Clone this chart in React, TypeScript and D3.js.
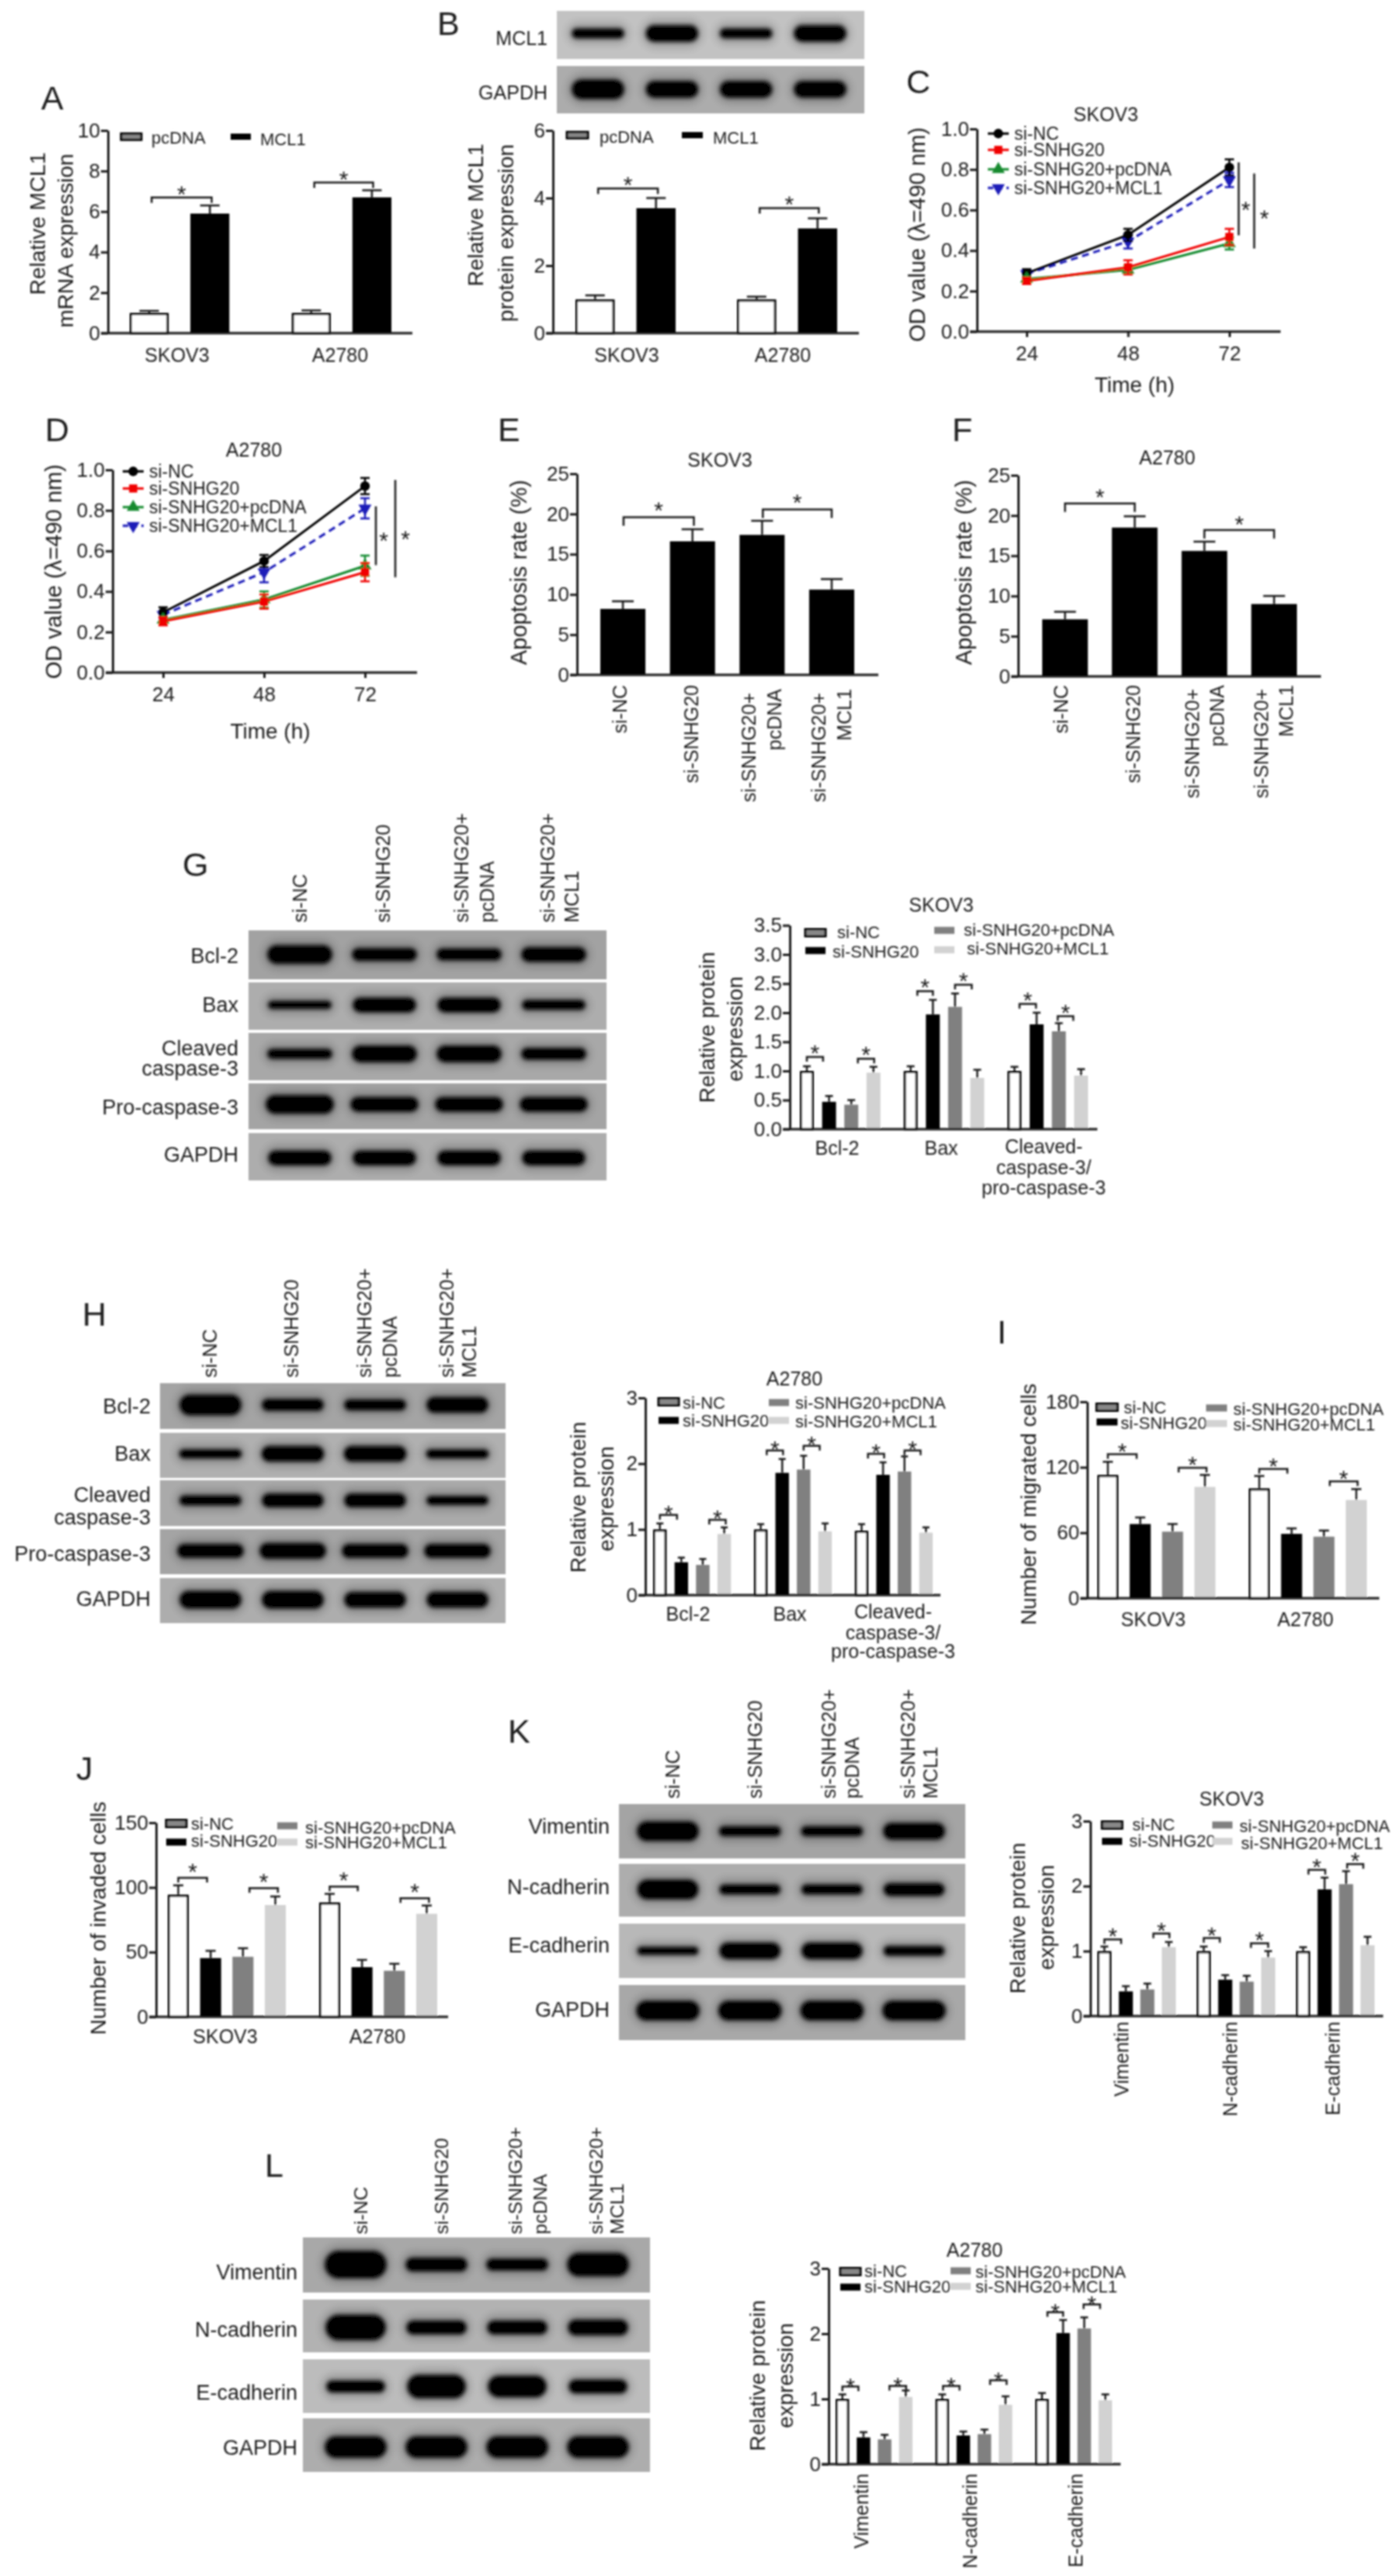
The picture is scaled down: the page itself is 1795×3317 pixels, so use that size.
/**
 * SNHG20 / MCL1 multi panel figure
 */
import React, { useEffect, useRef } from 'react'
import * as d3 from 'd3'

const FONT = '"Liberation Sans", Arial, sans-serif'
const INK = '#1c1c1c'

const groups2 = ['SKOV3', 'A2780']
const seriesNames = ['si-NC', 'si-SNHG20', 'si-SNHG20+pcDNA', 'si-SNHG20+MCL1']
const barColors = ['#fff', '#000', '#808080', '#d2d2d2']
const hours = [24, 48, 72]

// A
const aMeans = [[1, 1], [5.9, 6.7]]
const aTops = [[1.1, 1.12], [6.3, 7.05]]
const aBrackets = [[0, 0.04, 1.03, 6.7], [1, 0.05, 1.02, 7.43]]
// B
const bMeans = [[1, 1], [3.7, 3.1]]
const bTops = [[1.12, 1.08], [4.0, 3.4]]
const bBrackets = [[0, 0.05, 1.03, 4.28], [1, 0.05, 1.02, 3.7]]
const bBandMcl1 = [10, 17, 10, 17]
const bBandGapdh = [20, 17, 17, 17]
// C
const cMeans = [[0.288, 0.477, 0.81], [0.25, 0.317, 0.467], [0.26, 0.305, 0.435], [0.285, 0.445, 0.748]]
const cErrs = [[0.02, 0.03, 0.04], [0.015, 0.035, 0.04], [0.01, 0.02, 0.03], [0.015, 0.035, 0.035]]
const cSig = [[12, 0.835, 0.475, 9, 0.628], [32, 0.78, 0.41, 13, 0.586]]
// D
const dMeans = [[0.297, 0.55, 0.92], [0.253, 0.35, 0.495], [0.26, 0.36, 0.527], [0.285, 0.495, 0.81]]
const dErrs = [[0.025, 0.03, 0.04], [0.02, 0.035, 0.045], [0.015, 0.04, 0.05], [0.015, 0.05, 0.05]]
const dSig = [[14, 0.82, 0.53, 10, 0.678], [39, 0.95, 0.47, 13, 0.686]]
// E
const eMeans = [[8.2], [16.6], [17.4], [10.6]]
const eTops = [[9.15], [18.1], [19.15], [11.9]]
const eBrackets = [[0, 0.01, 1.02, 19.6], [0, 2.01, 3.0, 20.56]]
// F
const fMeans = [[7.1], [18.5], [15.6], [9.0]]
const fTops = [[8.03], [19.9], [16.75], [10.0]]
const fBrackets = [[0, 0, 1, 21.5], [0, 2, 3, 18.2]]
// G
const gGroups = ['Bcl-2', 'Bax', 'Cleaved']
const gMeans = [[1, 1, 1], [0.47, 1.97, 1.8], [0.42, 2.1, 1.68], [0.97, 0.88, 0.92]]
const gTops = [[1.08, 1.08, 1.07], [0.57, 2.22, 2.0], [0.5, 2.33, 1.82], [1.07, 1.02, 1.03]]
const gBrackets = [[0, 0, 0.73, 1.24], [0, 2.3, 3.03, 1.21], [1, 0.3, 1, 2.37], [1, 2, 2.75, 2.48], [2, 0.23, 0.97, 2.15], [2, 1.95, 2.65, 1.94]]
const gBands = [[19, 13, 12, 15], [8, 15, 15, 10], [10, 17, 17, 12], [19, 15, 15, 15], [15, 15, 15, 15]]
// H
const hMeans = [[1, 1, 0.98], [0.5, 1.86, 1.83], [0.46, 1.91, 1.88], [0.93, 0.97, 0.95]]
const hTops = [[1.09, 1.08, 1.08], [0.57, 2.07, 2.02], [0.55, 2.12, 2.11], [1.03, 1.09, 1.03]]
const hBrackets = [[0, 0, 0.8, 1.22], [0, 2.3, 3.07, 1.145], [1, 0.28, 1.04, 2.2], [1, 2, 2.75, 2.27], [2, 0.3, 1.05, 2.15], [2, 2, 2.75, 2.2]]
const hBands = [[21, 12, 11, 16], [9, 16, 16, 9], [10, 14, 14, 9], [14, 16, 14, 14], [18, 18, 16, 16]]
// I
const iMeans = [[113, 100.7], [68, 59], [61, 56.4], [102, 90]]
const iTops = [[125, 112], [74, 64], [68, 62], [113, 100]]
const iBrackets = [[0, 0, 0.89, 131.9], [0, 2.19, 3.05, 119.6], [1, 0, 0.87, 118.4], [1, 2.18, 3.04, 107]]
// J
const jMeans = [[94.4, 88.4], [45.4, 38.4], [46.4, 35.6], [86.4, 79.6]]
const jTops = [[101.6, 95], [51, 44], [53, 41], [93, 86]]
const jBrackets = [[0, 0, 0.89, 107.4], [0, 2.2, 3.08, 99.4], [1, 0, 0.87, 100.6], [1, 2.19, 3.07, 91.6]]
// K
const emtGroups = ['Vimentin', 'N-cadherin', 'E-cadherin']
const kMeans = [[1, 1, 1], [0.38, 0.56, 1.95], [0.41, 0.53, 2.03], [1.06, 0.9, 1.09]]
const kTops = [[1.07, 1.07, 1.06], [0.46, 0.63, 2.13], [0.5, 0.62, 2.23], [1.14, 1.0, 1.22]]
const kBrackets = [[0, 0, 0.78, 1.18], [0, 2.28, 3.03, 1.27], [1, 0, 0.75, 1.2], [1, 2.2, 3, 1.12], [2, 0.25, 1.03, 2.25], [2, 2.05, 2.8, 2.34]]
const kBands = [[20, 10, 10, 17], [20, 10, 10, 13], [8, 17, 17, 10], [20, 20, 20, 20]]
// L
const lMeans = [[1, 1, 1], [0.41, 0.44, 2.01], [0.38, 0.46, 2.08], [1.03, 0.91, 0.98]]
const lTops = [[1.07, 1.07, 1.09], [0.49, 0.5, 2.21], [0.45, 0.53, 2.25], [1.13, 1.04, 1.07]]
const lBrackets = [[0, 0, 0.76, 1.19], [0, 2.23, 3.02, 1.2], [1, 0.04, 0.82, 1.2], [1, 2.27, 3.05, 1.285], [2, 0.26, 1, 2.33], [2, 1.97, 2.75, 2.45]]
const lBands = [[28, 14, 12, 24], [26, 14, 14, 16], [12, 24, 22, 14], [22, 22, 22, 22]]

type Sel = d3.Selection<any, any, any, any>

function txt(g: Sel, s: string, x: number, y: number, size: number, anchor = 'middle', rot = false) {
  const t = g
    .append('text')
    .text(s)
    .attr('font-family', FONT)
    .attr('font-size', size)
    .attr('fill', INK)
    .attr('text-anchor', anchor)
    .attr('dominant-baseline', 'central')
  if (rot) t.attr('transform', `translate(${x},${y}) rotate(-90)`)
  else t.attr('x', x).attr('y', y)
  return t
}

function letter(g: Sel, s: string, x: number, baseline: number) {
  g.append('text').text(s).attr('x', x).attr('y', baseline).attr('font-family', FONT).attr('font-size', 43).attr('fill', INK)
}

function star(g: Sel, x: number, yc: number, size = 30) {
  g.append('text')
    .text('*')
    .attr('x', x)
    .attr('y', yc + size * 0.57)
    .attr('text-anchor', 'middle')
    .attr('font-family', FONT)
    .attr('font-size', size)
    .attr('fill', INK)
}

function hline(g: Sel, x1: number, x2: number, y1: number, y2: number, w = 3, color = INK) {
  g.append('line').attr('x1', x1).attr('x2', x2).attr('y1', y1).attr('y2', y2).attr('stroke', color).attr('stroke-width', w)
}

function yAxis(g: Sel, y: d3.ScaleLinear<number, number>, x: number, ticks: number[], fmt: (d: any) => string = d3.format('d'), size = 26) {
  const axis = d3.axisLeft(y).tickValues(ticks).tickSize(9).tickSizeOuter(0).tickPadding(1).tickFormat(fmt)
  const a = g.append('g').attr('transform', `translate(${x},0)`).call(axis as any)
  a.select('.domain').attr('stroke', INK).attr('stroke-width', 3)
  a.selectAll('.tick line').attr('stroke', INK).attr('stroke-width', 3)
  a.selectAll('.tick text').attr('font-size', size).attr('font-family', FONT).attr('fill', INK)
}

interface BarCfg {
  axisX: number
  xEnd: number
  yTop: number
  y0: number
  yMax: number
  ticks: number[]
  fmt?: (d: any) => string
  range: [number, number]
  groups: string[]
  groupPad: number
  barPad: number
  means: number[][]
  tops: number[][]
  colors: string[]
  capW: number
  brackets: number[][]
  starGap: number
  legLen: number
}

function barChart(g: Sel, c: BarCfg) {
  const y = d3.scaleLinear().domain([0, c.yMax]).range([c.y0, c.yTop])
  const xGroup = d3.scaleBand<number>().domain(c.groups.map((_, i) => i)).range(c.range).paddingInner(c.groupPad)
  const xBar = d3.scaleBand<number>().domain(c.means.map((_, i) => i)).range([0, xGroup.bandwidth()]).paddingInner(c.barPad)
  const center = (gi: number, p: number) => (xGroup(gi) as number) + (xBar(0) as number) + xBar.bandwidth() / 2 + p * xBar.step()

  c.means.forEach((vals, si) => {
    vals.forEach((v, gi) => {
      const cx = center(gi, si)
      hline(g, cx, cx, y(v), y(c.tops[si][gi]), 2.5)
      hline(g, cx - c.capW / 2, cx + c.capW / 2, y(c.tops[si][gi]), y(c.tops[si][gi]), 2.5)
      const white = c.colors[si] === '#fff'
      const inset = white ? 1.5 : 0
      g.append('rect')
        .attr('x', cx - xBar.bandwidth() / 2 + inset)
        .attr('y', y(v) + inset)
        .attr('width', xBar.bandwidth() - 2 * inset)
        .attr('height', y(0) - y(v) - inset)
        .attr('fill', c.colors[si])
        .attr('stroke', white ? '#000' : 'none')
        .attr('stroke-width', white ? 3 : 0)
    })
  })
  yAxis(g, y, c.axisX, c.ticks, c.fmt)
  hline(g, c.axisX - 9, c.xEnd, y(0), y(0), 3)
  c.brackets.forEach(([gi, p1, p2, v]) => {
    const x1 = center(gi, p1)
    const x2 = center(gi, p2)
    const yb = y(v)
    g.append('path')
      .attr('d', `M${x1},${yb + c.legLen}V${yb}H${x2}V${yb + c.legLen}`)
      .attr('fill', 'none')
      .attr('stroke', INK)
      .attr('stroke-width', 2.5)
    star(g, (x1 + x2) / 2, yb - c.starGap)
  })
}

function swatch(g: Sel, x: number, yc: number, w: number, h: number, color: string) {
  const white = color === '#fff'
  g.append('rect')
    .attr('x', x)
    .attr('y', yc - h / 2)
    .attr('width', w)
    .attr('height', h)
    .attr('fill', white ? '#888' : color)
    .attr('stroke', white ? '#000' : 'none')
    .attr('stroke-width', white ? 3 : 0)
}

// entries: swatch x, swatch y, text x, text y, one per series
function barLegend(g: Sel, names: string[], colors: string[], entries: number[][], w: number, h: number, size = 22) {
  names.forEach((n, i) => {
    const [sx, sy, tx, ty] = entries[i]
    swatch(g, sx, sy, w, h, colors[i])
    txt(g, n, tx, ty, size, 'start')
  })
}

interface LineCfg {
  axisX: number
  xEnd: number
  yTop: number
  y0: number
  x24: number
  x72: number
  means: number[][]
  errs: number[][]
  sig: number[][]
  legendLine: [number, number]
  legendYs: number[]
  legendTextX: number
}

const lineColors = ['#000', '#f00000', '#138a2e', '#1a1ab8']
const symbolTypes = [d3.symbolCircle, d3.symbolSquare, d3.symbolTriangle, d3.symbolTriangle]

function marker(g: Sel, i: number, x: number, y: number) {
  const flip = i === 3 ? ' rotate(180)' : ''
  g.append('path')
    .attr('d', d3.symbol().type(symbolTypes[i]).size(i === 1 ? 110 : 120)() as string)
    .attr('transform', `translate(${x},${y})${flip}`)
    .attr('fill', lineColors[i])
}

function lineChart(g: Sel, c: LineCfg) {
  const y = d3.scaleLinear().domain([0, 1]).range([c.y0, c.yTop])
  const x = d3.scalePoint<number>().domain(hours).range([c.x24, c.x72])
  const line = d3.line<number>().x((_, i) => x(hours[i]) as number).y((d) => y(d))
  // blue and black first, red sits on top of green in the source
  ;[3, 0, 2, 1].forEach((si) => {
    g.append('path')
      .attr('d', line(c.means[si]) as string)
      .attr('fill', 'none')
      .attr('stroke', lineColors[si])
      .attr('stroke-width', 3)
      .attr('stroke-dasharray', si === 3 ? '9 6' : null)
    c.means[si].forEach((v, i) => {
      const px = x(hours[i]) as number
      const e = c.errs[si][i]
      hline(g, px, px, y(v - e), y(v + e), 2.5, lineColors[si])
      hline(g, px - 6, px + 6, y(v - e), y(v - e), 2.5, lineColors[si])
      hline(g, px - 6, px + 6, y(v + e), y(v + e), 2.5, lineColors[si])
      marker(g, si, px, y(v))
    })
  })
  yAxis(g, y, c.axisX, [0, 0.2, 0.4, 0.6, 0.8, 1], d3.format('.1f'))
  hline(g, c.axisX - 9, c.xEnd, y(0), y(0), 3)
  const bottom = g
    .append('g')
    .attr('transform', `translate(0,${c.y0})`)
    .call(d3.axisBottom(x).tickSize(7).tickPadding(12) as any)
  bottom.select('.domain').remove()
  bottom.selectAll('.tick line').attr('stroke', INK).attr('stroke-width', 3)
  bottom.selectAll('.tick text').attr('font-size', 26).attr('font-family', FONT).attr('fill', INK)
  c.sig.forEach(([dx, top, low, starDx, starV]) => {
    hline(g, c.x72 + dx, c.x72 + dx, y(top), y(low), 2.5)
    star(g, c.x72 + dx + starDx, y(starV))
  })
  seriesNames.forEach((n, i) => {
    const ly = c.legendYs[i]
    g.append('line')
      .attr('x1', c.legendLine[0])
      .attr('x2', c.legendLine[1])
      .attr('y1', ly)
      .attr('y2', ly)
      .attr('stroke', lineColors[i])
      .attr('stroke-width', 3)
      .attr('stroke-dasharray', i === 3 ? '7 5' : null)
    marker(g, i, (c.legendLine[0] + c.legendLine[1]) / 2, ly)
    txt(g, n, c.legendTextX, ly, 23, 'start')
  })
}

interface BlotRow {
  y0: number
  y1: number
  cy: number
  fill: string
  bandW: number
}

function blot(g: Sel, x0: number, x1: number, lanes: [number, number], rows: BlotRow[], bands: number[][]) {
  const lane = d3.scalePoint<number>().domain([0, 1, 2, 3]).range(lanes)
  rows.forEach((r, ri) => {
    g.append('rect').attr('x', x0).attr('y', r.y0).attr('width', x1 - x0).attr('height', r.y1 - r.y0).attr('fill', r.fill)
    bands[ri].forEach((t, i) => {
      const cx = lane(i) as number
      const h = t * 1.25 + 1
      // soft shadow round the band, stays inside the row
      const haloH = Math.min(h + 16, r.y1 - r.y0 - 6)
      g.append('rect')
        .attr('x', cx - r.bandW / 2 - 6)
        .attr('y', r.cy - haloH / 2)
        .attr('width', r.bandW + 12)
        .attr('height', haloH)
        .attr('rx', haloH / 2)
        .attr('fill', '#000')
        .attr('opacity', 0.16)
        .attr('filter', 'url(#halo)')
      g.append('rect')
        .attr('x', cx - r.bandW / 2)
        .attr('y', r.cy - h / 2)
        .attr('width', r.bandW)
        .attr('height', h)
        .attr('rx', h / 2)
        .attr('fill', '#030303')
        .attr('filter', 'url(#band)')
    })
  })
}

// [text, x, y]
function rotLabels(g: Sel, items: [string, number, number][], anchor: string, size = 25) {
  items.forEach(([s, x, y]) => txt(g, s, x, y, size, anchor, true))
}
function flatLabels(g: Sel, items: [string, number, number][], anchor: string, size = 25) {
  items.forEach(([s, x, y]) => txt(g, s, x, y, size, anchor))
}

function draw(node: SVGSVGElement) {
  const svg = d3.select(node)
  svg.selectAll('*').remove()
  const defs = svg.append('defs')
  defs.append('filter').attr('id', 'band').attr('x', '-30%').attr('y', '-150%').attr('width', '160%').attr('height', '400%')
    .append('feGaussianBlur').attr('stdDeviation', 2.4)
  defs.append('filter').attr('id', 'halo').attr('x', '-30%').attr('y', '-100%').attr('width', '160%').attr('height', '300%')
    .append('feGaussianBlur').attr('stdDeviation', 5)
  defs.append('filter').attr('id', 'soft').attr('filterUnits', 'userSpaceOnUse')
    .attr('x', 0).attr('y', 0).attr('width', 1795).attr('height', 3317)
    .append('feGaussianBlur').attr('stdDeviation', 0.8)
  const g = svg.append('g').attr('filter', 'url(#soft)')

  // A
  letter(g, 'A', 53, 141)
  barChart(g, { axisX: 139, xEnd: 531, yTop: 168, y0: 429, yMax: 10, ticks: [0, 2, 4, 6, 8, 10], range: [167, 504], groups: groups2, groupPad: 0.385, barPad: 0.357, means: aMeans, tops: aTops, colors: ['#fff', '#000'], capW: 25, brackets: aBrackets, starGap: 11, legLen: 7 })
  barLegend(g, ['pcDNA', 'MCL1'], ['#fff', '#000'], [[156, 176, 195, 177], [297, 176, 335, 179]], 26, 8)
  flatLabels(g, [['SKOV3', 228, 457], ['A2780', 438, 457]], 'middle')
  rotLabels(g, [['Relative MCL1', 48, 288], ['mRNA expression', 84, 310]], 'middle', 28)

  // B
  letter(g, 'B', 563, 45)
  blot(g, 717, 1113, [770, 1056], [
    { y0: 14, y1: 76, cy: 43, fill: '#c2c2c2', bandW: 68 },
    { y0: 85, y1: 146, cy: 115, fill: '#acacac', bandW: 68 },
  ], [bBandMcl1, bBandGapdh])
  flatLabels(g, [['MCL1', 705, 49], ['GAPDH', 705, 119]], 'end')
  barChart(g, { axisX: 712, xEnd: 1106, yTop: 168, y0: 429, yMax: 6, ticks: [0, 2, 4, 6], range: [741, 1078], groups: groups2, groupPad: 0.38, barPad: 0.357, means: bMeans, tops: bTops, colors: ['#fff', '#000'], capW: 25, brackets: bBrackets, starGap: 12, legLen: 7 })
  barLegend(g, ['pcDNA', 'MCL1'], ['#fff', '#000'], [[730, 174, 772, 176], [878, 174, 918, 177]], 27, 8)
  flatLabels(g, [['SKOV3', 807, 457], ['A2780', 1008, 457]], 'middle')
  rotLabels(g, [['Relative MCL1', 612, 277], ['protein expression', 651, 300]], 'middle', 28)

  // C
  letter(g, 'C', 1167, 120)
  txt(g, 'SKOV3', 1424, 147, 25)
  lineChart(g, { axisX: 1258, xEnd: 1649, yTop: 166, y0: 427, x24: 1322, x72: 1583, means: cMeans, errs: cErrs, sig: cSig, legendLine: [1272, 1299], legendYs: [172, 193, 218, 242], legendTextX: 1306 })
  txt(g, 'Time (h)', 1461, 495, 28)
  rotLabels(g, [['OD value (λ=490 nm)', 1181, 302]], 'middle', 29)

  // D
  letter(g, 'D', 58, 568)
  txt(g, 'A2780', 327, 579, 25)
  lineChart(g, { axisX: 145, xEnd: 537, yTop: 605, y0: 866, x24: 210, x72: 470, means: dMeans, errs: dErrs, sig: dSig, legendLine: [158, 185], legendYs: [607, 629, 653, 677], legendTextX: 192 })
  txt(g, 'Time (h)', 348, 941, 28)
  rotLabels(g, [['OD value (λ=490 nm)', 69, 736]], 'middle', 29)

  // E
  const allBlack = ['#000', '#000', '#000', '#000']
  letter(g, 'E', 641, 568)
  txt(g, 'SKOV3', 927, 592, 25)
  barChart(g, { axisX: 743, xEnd: 1131, yTop: 610, y0: 869, yMax: 25, ticks: [0, 5, 10, 15, 20, 25], range: [773, 1100], groups: [''], groupPad: 0, barPad: 0.352, means: eMeans, tops: eTops, colors: allBlack, capW: 28, brackets: eBrackets, starGap: 16, legLen: 11 })
  rotLabels(g, [['si-NC', 798, 882], ['si-SNHG20', 890, 882], ['si-SNHG20+', 964, 892], ['pcDNA', 997, 887], ['si-SNHG20+', 1054, 892], ['MCL1', 1087, 887]], 'end')
  rotLabels(g, [['Apoptosis rate (%)', 668, 737]], 'middle', 29)

  // F
  letter(g, 'F', 1226, 568)
  txt(g, 'A2780', 1503, 589, 25)
  barChart(g, { axisX: 1311, xEnd: 1701, yTop: 612, y0: 871, yMax: 25, ticks: [0, 5, 10, 15, 20, 25], range: [1342, 1670], groups: [''], groupPad: 0, barPad: 0.345, means: fMeans, tops: fTops, colors: allBlack, capW: 28, brackets: fBrackets, starGap: 15, legLen: 11 })
  rotLabels(g, [['si-NC', 1366, 882], ['si-SNHG20', 1459, 882], ['si-SNHG20+', 1535, 887], ['pcDNA', 1567, 882], ['si-SNHG20+', 1624, 887], ['MCL1', 1656, 882]], 'end')
  rotLabels(g, [['Apoptosis rate (%)', 1241, 737]], 'middle', 29)

  // G
  letter(g, 'G', 235, 1128)
  rotLabels(g, [['si-NC', 386, 1188], ['si-SNHG20', 493, 1188], ['si-SNHG20+', 594, 1188], ['pcDNA', 627, 1188], ['si-SNHG20+', 705, 1188], ['MCL1', 736, 1188]], 'start')
  blot(g, 320, 781, [386, 713], [
    { y0: 1198, y1: 1261, cy: 1229, fill: '#a2a2a2', bandW: 84 },
    { y0: 1265, y1: 1326, cy: 1294, fill: '#adadad', bandW: 82 },
    { y0: 1330, y1: 1391, cy: 1357, fill: '#a8a8a8', bandW: 84 },
    { y0: 1395, y1: 1454, cy: 1422, fill: '#a4a4a4', bandW: 88 },
    { y0: 1459, y1: 1520, cy: 1491, fill: '#adadad', bandW: 82 },
  ], gBands)
  flatLabels(g, [['Bcl-2', 307, 1231], ['Bax', 307, 1294], ['Cleaved', 307, 1350], ['caspase-3', 307, 1376], ['Pro-caspase-3', 307, 1426], ['GAPDH', 307, 1487]], 'end', 27)
  txt(g, 'SKOV3', 1212, 1165, 25)
  barChart(g, { axisX: 1017, xEnd: 1413, yTop: 1191.5, y0: 1454, yMax: 3.5, ticks: [0, 0.5, 1, 1.5, 2, 2.5, 3, 3.5], fmt: d3.format('.1f'), range: [1030, 1401], groups: gGroups, groupPad: 0.224, barPad: 0.373, means: gMeans, tops: gTops, colors: barColors, capW: 10, brackets: gBrackets, starGap: 12, legLen: 6 })
  barLegend(g, seriesNames, barColors, [[1037, 1201, 1078, 1200], [1037, 1224, 1072, 1225], [1203, 1198, 1241, 1197], [1203, 1223, 1245, 1221]], 26, 9)
  flatLabels(g, [['Bcl-2', 1078, 1478], ['Bax', 1212, 1478], ['Cleaved-', 1344, 1476], ['caspase-3/', 1344, 1503], ['pro-caspase-3', 1344, 1529]], 'middle')
  rotLabels(g, [['Relative protein', 910, 1323], ['expression', 946, 1325]], 'middle', 28)

  // H
  letter(g, 'H', 106, 1707)
  rotLabels(g, [['si-NC', 270, 1774], ['si-SNHG20', 375, 1774], ['si-SNHG20+', 469, 1774], ['pcDNA', 502, 1774], ['si-SNHG20+', 575, 1774], ['MCL1', 604, 1774]], 'start')
  blot(g, 206, 651, [271, 589], [
    { y0: 1781, y1: 1840, cy: 1809, fill: '#a4a4a4', bandW: 80 },
    { y0: 1845, y1: 1903, cy: 1872, fill: '#b0b0b0', bandW: 81 },
    { y0: 1906, y1: 1965, cy: 1932, fill: '#aaaaaa', bandW: 80 },
    { y0: 1969, y1: 2027, cy: 1997, fill: '#a4a4a4', bandW: 86 },
    { y0: 2032, y1: 2090, cy: 2060, fill: '#adadad', bandW: 80 },
  ], hBands)
  flatLabels(g, [['Bcl-2', 194, 1811], ['Bax', 194, 1872], ['Cleaved', 194, 1925], ['caspase-3', 194, 1954], ['Pro-caspase-3', 194, 2001], ['GAPDH', 194, 2059]], 'end', 27)
  txt(g, 'A2780', 1023, 1775, 25)
  barChart(g, { axisX: 831, xEnd: 1211, yTop: 1800, y0: 2054, yMax: 3, ticks: [0, 1, 2, 3], range: [841, 1201], groups: gGroups, groupPad: 0.228, barPad: 0.37, means: hMeans, tops: hTops, colors: barColors, capW: 9, brackets: hBrackets, starGap: 9, legLen: 6 })
  barLegend(g, seriesNames, barColors, [[848, 1805, 879, 1806], [848, 1829, 879, 1829], [990, 1806, 1024, 1806], [990, 1829, 1024, 1830]], 26, 9)
  flatLabels(g, [['Bcl-2', 886, 2078], ['Bax', 1017, 2078], ['Cleaved-', 1150, 2075], ['caspase-3/', 1150, 2102], ['pro-caspase-3', 1150, 2126]], 'middle')
  rotLabels(g, [['Relative protein', 744, 1928], ['expression', 780, 1930]], 'middle', 28)

  // I
  letter(g, 'I', 1284, 1730)
  barChart(g, { axisX: 1400, xEnd: 1776, yTop: 1805, y0: 2058, yMax: 180, ticks: [0, 60, 120, 180], range: [1413, 1760], groups: groups2, groupPad: 0.22, barPad: 0.35, means: iMeans, tops: iTops, colors: barColors, capW: 13, brackets: iBrackets, starGap: 11, legLen: 6 })
  barLegend(g, seriesNames, barColors, [[1412, 1812, 1447, 1812], [1412, 1831, 1443, 1832], [1553, 1813, 1588, 1814], [1553, 1833, 1588, 1834]], 27, 9)
  flatLabels(g, [['SKOV3', 1485, 2085], ['A2780', 1681, 2085]], 'middle')
  rotLabels(g, [['Number of migrated cells', 1324, 1937]], 'middle', 28)

  // J
  letter(g, 'J', 98, 2292)
  barChart(g, { axisX: 201, xEnd: 577, yTop: 2347, y0: 2597, yMax: 150, ticks: [0, 50, 100, 150], range: [216, 563], groups: groups2, groupPad: 0.22, barPad: 0.35, means: jMeans, tops: jTops, colors: barColors, capW: 13, brackets: jBrackets, starGap: 15, legLen: 6 })
  barLegend(g, seriesNames, barColors, [[214, 2348, 246, 2348], [214, 2372, 246, 2370], [357, 2351, 393, 2353], [357, 2372, 393, 2372]], 26, 9)
  flatLabels(g, [['SKOV3', 290, 2622], ['A2780', 486, 2622]], 'middle')
  rotLabels(g, [['Number of invaded cells', 126, 2470]], 'middle', 28)

  // K
  letter(g, 'K', 654, 2244)
  rotLabels(g, [['si-NC', 866, 2316], ['si-SNHG20', 972, 2316], ['si-SNHG20+', 1067, 2316], ['pcDNA', 1097, 2316], ['si-SNHG20+', 1169, 2316], ['MCL1', 1198, 2316]], 'start')
  blot(g, 797, 1243, [860, 1177], [
    { y0: 2323, y1: 2393, cy: 2358, fill: '#a4a4a4', bandW: 80 },
    { y0: 2400, y1: 2468, cy: 2433, fill: '#adadad', bandW: 79 },
    { y0: 2477, y1: 2547, cy: 2512, fill: '#b8b8b8', bandW: 79 },
    { y0: 2556, y1: 2627, cy: 2589, fill: '#a8a8a8', bandW: 82 },
  ], kBands)
  flatLabels(g, [['Vimentin', 785, 2352], ['N-cadherin', 785, 2430], ['E-cadherin', 785, 2505], ['GAPDH', 785, 2588]], 'end', 27)
  txt(g, 'SKOV3', 1586, 2316, 25)
  barChart(g, { axisX: 1404, xEnd: 1781, yTop: 2345, y0: 2596, yMax: 3, ticks: [0, 1, 2, 3], range: [1413, 1770], groups: emtGroups, groupPad: 0.21, barPad: 0.345, means: kMeans, tops: kTops, colors: barColors, capW: 10, brackets: kBrackets, starGap: 11, legLen: 6 })
  barLegend(g, seriesNames, barColors, [[1419, 2350, 1458, 2349], [1419, 2371, 1454, 2370], [1561, 2350, 1596, 2351], [1561, 2371, 1598, 2373]], 26, 9)
  rotLabels(g, [['Vimentin', 1444, 2603], ['N-cadherin', 1584, 2603], ['E-cadherin', 1716, 2603]], 'end')
  rotLabels(g, [['Relative protein', 1310, 2470], ['expression', 1347, 2469]], 'middle', 28)

  // L
  letter(g, 'L', 341, 2803)
  rotLabels(g, [['si-NC', 464, 2877], ['si-SNHG20', 568, 2877], ['si-SNHG20+', 663, 2877], ['pcDNA', 695, 2877], ['si-SNHG20+', 767, 2877], ['MCL1', 794, 2877]], 'start', 24.5)
  blot(g, 390, 837, [458, 770], [
    { y0: 2881, y1: 2952, cy: 2916, fill: '#a8a8a8', bandW: 80 },
    { y0: 2961, y1: 3029, cy: 2997, fill: '#b2b2b2', bandW: 78 },
    { y0: 3038, y1: 3107, cy: 3073, fill: '#bcbcbc', bandW: 76 },
    { y0: 3114, y1: 3183, cy: 3151, fill: '#adadad', bandW: 80 },
  ], lBands)
  flatLabels(g, [['Vimentin', 383, 2926], ['N-cadherin', 383, 3000], ['E-cadherin', 383, 3081], ['GAPDH', 383, 3152]], 'end', 27)
  txt(g, 'A2780', 1255, 2897, 25)
  barChart(g, { axisX: 1067, xEnd: 1443, yTop: 2921, y0: 3173, yMax: 3, ticks: [0, 1, 2, 3], range: [1076, 1432], groups: emtGroups, groupPad: 0.23, barPad: 0.36, means: lMeans, tops: lTops, colors: barColors, capW: 10, brackets: lBrackets, starGap: 7, legLen: 6 })
  barLegend(g, seriesNames, barColors, [[1082, 2925, 1113, 2924], [1082, 2945, 1113, 2944], [1224, 2924, 1256, 2925], [1224, 2944, 1256, 2944]], 26, 9)
  rotLabels(g, [['Vimentin', 1109, 3185], ['N-cadherin', 1249, 3185], ['E-cadherin', 1385, 3185]], 'end')
  rotLabels(g, [['Relative protein', 975, 3059], ['expression', 1011, 3059]], 'middle', 28)
}

function App() {
  const ref = useRef<SVGSVGElement>(null)
  useEffect(() => {
    if (ref.current) draw(ref.current)
  }, [])
  return <svg ref={ref} width={1795} height={3317} style={{ position: 'absolute', left: 0, top: 0, background: '#fff' }} />
}

export default App
